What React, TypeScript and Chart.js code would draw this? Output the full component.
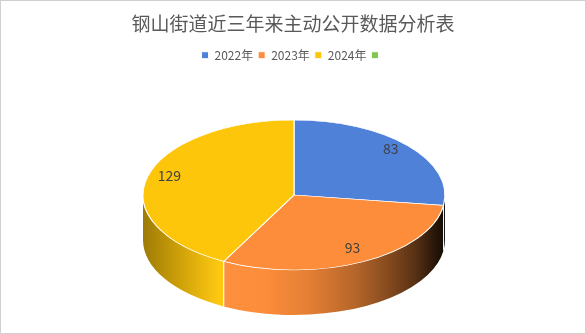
import React, { useEffect, useRef } from "react";
import { Chart, registerables } from "chart.js";

Chart.register(...registerables);

const TITLE = "钢山街道近三年来主动公开数据分析表";
const categories = ["2022年", "2023年", "2024年", ""];
const values = [83, 93, 129, 0];
const colors = ["#5081d9", "#fd8d3a", "#fec60a", "#7fc84d"];

const FONT = "'Microsoft YaHei', 'Noto Sans CJK SC', 'Noto Sans', sans-serif";

// 3D geometry (canvas coordinates)
const CX = 293;
const CY = 194;
const RX = 151;
const RY = 75;
const DEPTH = 45;
const LABEL_F = 0.85;
const LABEL_DY = -4;

const SHADE: [number, number][] = [
  [0, 0.62], [0.1, 0.78], [0.25, 1.03], [0.4, 1.0], [0.55, 0.9],
  [0.7, 0.72], [0.8, 0.55], [0.9, 0.35], [0.97, 0.15], [1, 0.08],
];

function shade(hex: string, f: number) {
  const n = parseInt(hex.slice(1), 16);
  let r = (n >> 16) & 255, g = (n >> 8) & 255, b = n & 255;
  if (f > 1) {
    const k = f - 1;
    r = r + (255 - r) * k; g = g + (255 - g) * k; b = b + (255 - b) * k;
  } else {
    r *= f; g *= f; b *= f;
  }
  return `rgb(${Math.round(r)},${Math.round(g)},${Math.round(b)})`;
}

const pie3d = {
  id: "pie3d",
  beforeDatasetsDraw(chart: any) {
    const ctx = chart.ctx as CanvasRenderingContext2D;
    const arcs = chart.getDatasetMeta(0).data as any[];
    if (!arcs.length) return;
    const a0 = arcs[0];
    const R = a0.outerRadius, ax = a0.x, ay = a0.y;
    const bgs = chart.data.datasets[0].backgroundColor as string[];
    const segs: [number, number][] = [[0, Math.PI], [2 * Math.PI, 3 * Math.PI]];
    const bounds: number[] = [];
    arcs.forEach((arc: any, i: number) => {
      const s = arc.startAngle, e = arc.endAngle;
      if (e - s <= 0) return;
      bounds.push(s, e);
      segs.forEach(([lo, hi]) => {
        const b1 = Math.max(s, lo), b2 = Math.min(e, hi);
        if (b2 <= b1) return;
        const grad = ctx.createLinearGradient(CX - RX, 0, CX + RX, 0);
        SHADE.forEach(([t, f]) => grad.addColorStop(t, shade(bgs[i], f)));
        ctx.beginPath();
        ctx.ellipse(CX, CY, RX, RY, 0, b1, b2, false);
        ctx.ellipse(CX, CY + DEPTH, RX, RY, 0, b2, b1, true);
        ctx.closePath();
        ctx.fillStyle = grad;
        ctx.fill();
      });
    });
    ctx.strokeStyle = "rgba(255,255,255,0.8)";
    ctx.lineWidth = 1;
    bounds.forEach((a) => {
      const s = Math.sin(a);
      if (s <= 0.02) return;
      const x = CX + RX * Math.cos(a), y = CY + RY * s;
      ctx.beginPath();
      ctx.moveTo(x, y);
      ctx.lineTo(x, y + DEPTH);
      ctx.stroke();
    });
    ctx.save();
    ctx.translate(CX, CY);
    ctx.scale(RX / R, RY / R);
    ctx.translate(-ax, -ay);
  },
  afterDatasetsDraw(chart: any) {
    const ctx = chart.ctx as CanvasRenderingContext2D;
    ctx.restore();
    const arcs = chart.getDatasetMeta(0).data as any[];
    const data = chart.data.datasets[0].data as number[];
    ctx.save();
    ctx.fillStyle = "#404040";
    ctx.font = `14px ${FONT}`;
    ctx.textAlign = "center";
    ctx.textBaseline = "middle";
    arcs.forEach((arc: any, i: number) => {
      if (!data[i]) return;
      const m = (arc.startAngle + arc.endAngle) / 2;
      const x = CX + RX * LABEL_F * Math.cos(m);
      const y = CY + RY * LABEL_F * Math.sin(m) + LABEL_DY;
      ctx.fillText(String(data[i]), x, y);
    });
    ctx.restore();
  },
};

export default function App() {
  const ref = useRef<HTMLCanvasElement>(null);
  useEffect(() => {
    if (!ref.current) return;
    const chart = new Chart(ref.current, {
      type: "pie",
      data: {
        labels: categories,
        datasets: [
          {
            data: values,
            backgroundColor: colors,
            borderColor: "#ffffff",
            borderWidth: 1,
          },
        ],
      },
      options: {
        animation: false,
        responsive: true,
        maintainAspectRatio: false,
        events: [],
        layout: { padding: { left: 10, right: 10, top: 0, bottom: 10 } },
        plugins: {
          title: {
            display: true,
            text: TITLE,
            color: "#595959",
            font: { family: FONT, size: 19, weight: "normal" },
            padding: { top: 11, bottom: 9.4 },
          },
          legend: {
            display: true,
            position: "top",
            labels: {
              boxWidth: 7,
              boxHeight: 7,
              color: "#595959",
              font: { family: FONT, size: 12 },
              padding: 5,
            },
          },
          tooltip: { enabled: false },
        },
      },
      plugins: [pie3d],
    });
    return () => chart.destroy();
  }, []);
  return (
    <div
      style={{
        position: "fixed",
        left: 0,
        top: 0,
        width: 586,
        height: 334,
        boxSizing: "border-box",
        border: "1px solid #d0d0d0",
        background: "#ffffff",
      }}
    >
      <canvas ref={ref} />
    </div>
  );
}
